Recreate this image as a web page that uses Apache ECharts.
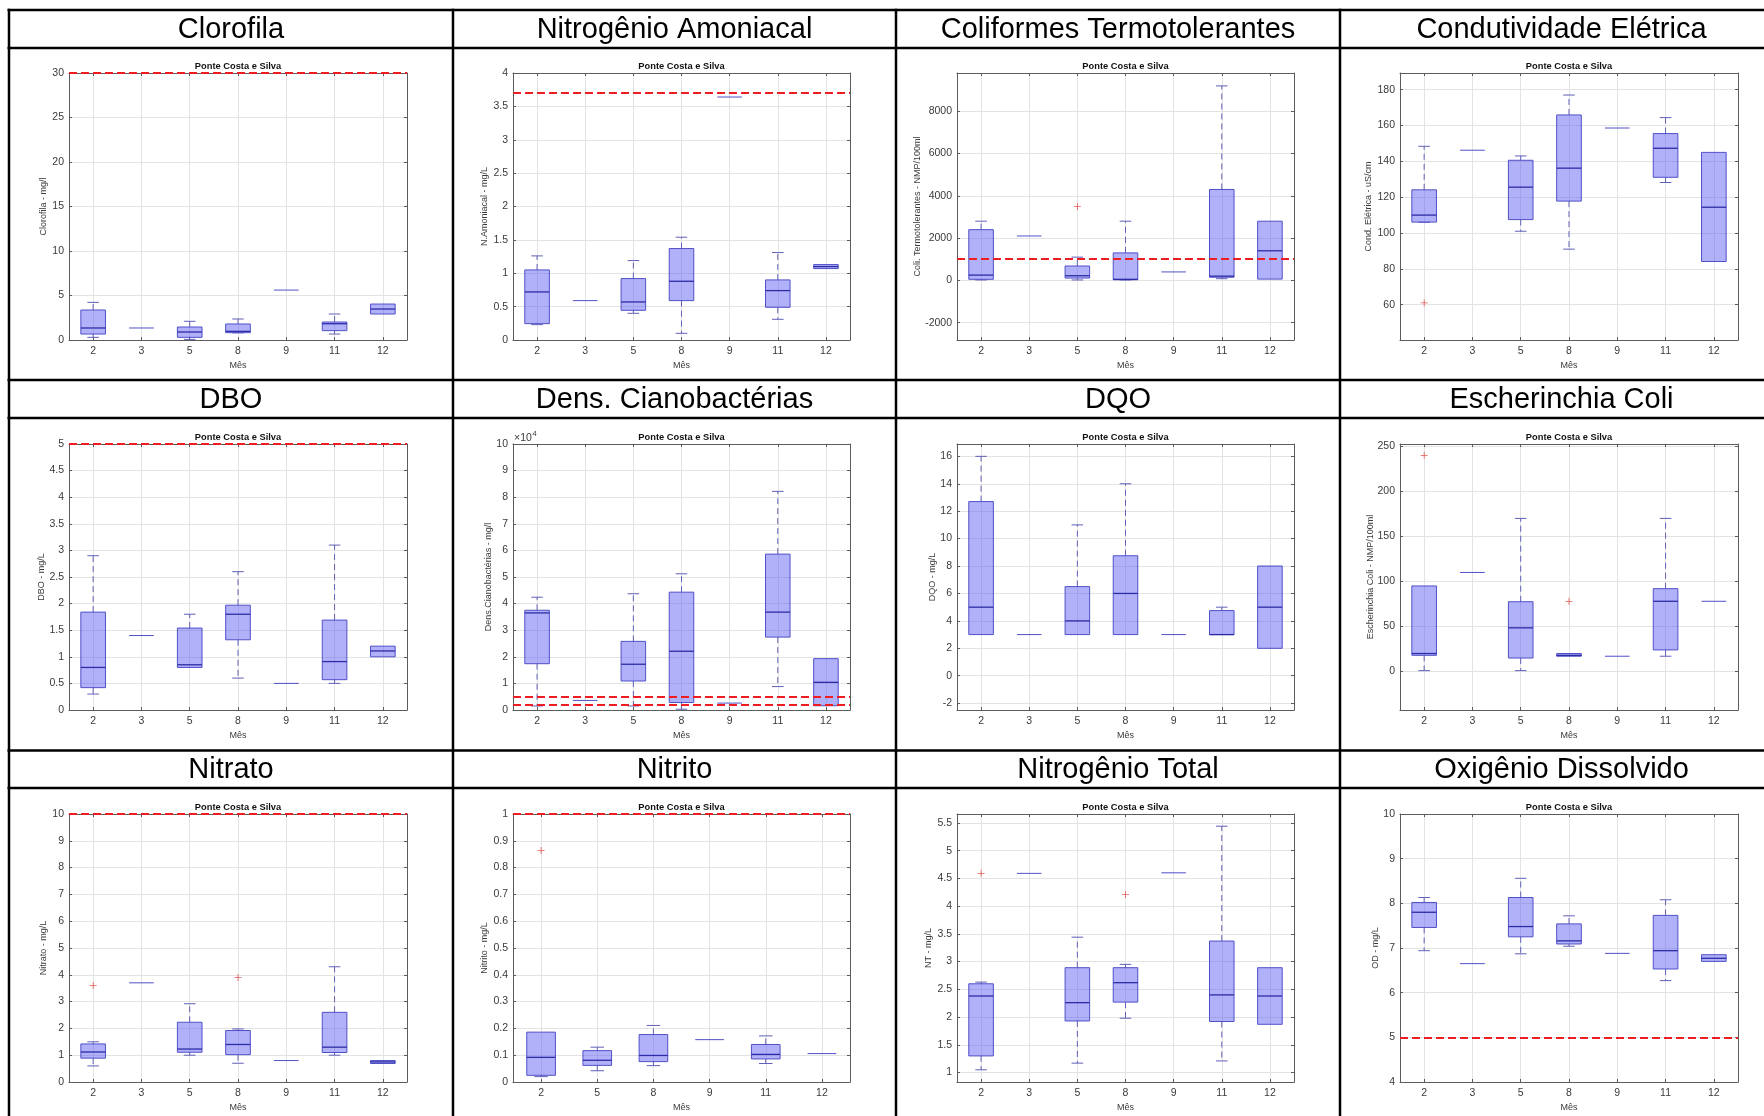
<!DOCTYPE html>
<html>
<head>
<meta charset="utf-8">
<title>Ponte Costa e Silva - boxplots mensais</title>
<script src="https://cdn.jsdelivr.net/npm/echarts@6/dist/echarts.min.js"></script>
<style>
  html, body { margin: 0; padding: 0; background: #ffffff; }
  #chart { width: 1764px; height: 1116px; }
</style>
</head>
<body>
<div id="chart"></div>
<script>
// ---- Months sampled ----
const months = ['2', '3', '5', '8', '9', '11', '12'];
const monthsNitrito = ['2', '5', '8', '9', '11', '12'];

// ---- Box statistics per month: [min, Q1, median, Q3, max] ----
const clorofila = [
  [0.3, 0.67, 1.35, 3.37, 4.23],
  [1.35, 1.35, 1.35, 1.35, 1.35],
  [0.07, 0.3, 0.9, 1.46, 2.1],
  [0.8, 0.82, 0.97, 1.8, 2.36],
  [5.61, 5.61, 5.61, 5.61, 5.61],
  [0.67, 1.05, 1.83, 2.02, 2.92],
  [2.92, 2.92, 3.48, 4.04, 4.04]
];
const clorofilaOut = [];
const clorofilaLimit = [30];
const clorofilaAxis = [0, 30, 5];

const amoniacal = [
  [0.23, 0.245, 0.72, 1.05, 1.26],
  [0.59, 0.59, 0.59, 0.59, 0.59],
  [0.4, 0.445, 0.57, 0.92, 1.19],
  [0.1, 0.59, 0.88, 1.37, 1.54],
  [3.64, 3.64, 3.64, 3.64, 3.64],
  [0.31, 0.49, 0.74, 0.9, 1.31],
  [1.07, 1.07, 1.1, 1.13, 1.13]
];
const amoniacalOut = [];
const amoniacalLimit = [3.7];
const amoniacalAxis = [0, 4, 0.5];

const coliformes = [
  [20, 50, 250, 2400, 2800],
  [2100, 2100, 2100, 2100, 2100],
  [20, 110, 220, 680, 1100],
  [20, 30, 50, 1300, 2800],
  [400, 400, 400, 400, 400],
  [80, 150, 200, 4300, 9200],
  [60, 60, 1400, 2800, 2800]
];
const coliformesOut = [['5', 3500]];
const coliformesLimit = [1000];
const coliformesAxis = [-2820, 9810, 2000];

const condutividade = [
  [106, 106.1, 110, 124.1, 148.4],
  [146.2, 146.2, 146.2, 146.2, 146.2],
  [101, 107.5, 125.6, 140.6, 143],
  [91, 117.8, 136.2, 165.9, 177],
  [158.6, 158.6, 158.6, 158.6, 158.6],
  [128.2, 131.1, 147.3, 155.5, 164.4],
  [84.1, 84.1, 114.4, 145, 145]
];
const condutividadeOut = [['2', 61]];
const condutividadeLimit = [];
const condutividadeAxis = [40.3, 189.3, 20];

const dbo = [
  [0.3, 0.42, 0.8, 1.84, 2.9],
  [1.4, 1.4, 1.4, 1.4, 1.4],
  [0.8, 0.8, 0.85, 1.54, 1.8],
  [0.6, 1.32, 1.8, 1.97, 2.6],
  [0.5, 0.5, 0.5, 0.5, 0.5],
  [0.5, 0.57, 0.91, 1.69, 3.1],
  [1, 1, 1.11, 1.2, 1.2]
];
const dboOut = [];
const dboLimit = [5];
const dboAxis = [0, 5, 0.5];

const cianobacterias = [
  [1500, 17400, 36500, 37500, 42400],
  [3600, 3600, 3600, 3600, 3600],
  [1500, 10900, 17200, 25800, 43700],
  [300, 2800, 22100, 44300, 51200],
  [2600, 2600, 2600, 2600, 2600],
  [8800, 27400, 36800, 58600, 82200],
  [1600, 1600, 10400, 19300, 19300]
];
const cianobacteriasOut = [];
const cianobacteriasLimit = [5000, 2000];
const cianobacteriasAxis = [0, 100000, 10000];

const dqo = [
  [3, 3, 5, 12.7, 16],
  [3, 3, 3, 3, 3],
  [3, 3, 4, 6.5, 11],
  [3, 3, 6, 8.75, 14],
  [3, 3, 3, 3, 3],
  [3, 3, 3, 4.75, 5],
  [2, 2, 5, 8, 8]
];
const dqoOut = [];
const dqoLimit = [];
const dqoAxis = [-2.5, 16.9, 2];

const ecoli = [
  [1, 18, 20, 95, 95],
  [110, 110, 110, 110, 110],
  [1, 15, 48.5, 77.5, 170],
  [17, 17, 18, 20, 20],
  [17, 17, 17, 17, 17],
  [17, 24, 78, 92, 170],
  [78, 78, 78, 78, 78]
];
const ecoliOut = [['2', 240], ['8', 78]];
const ecoliLimit = [];
const ecoliAxis = [-42.7, 252.6, 50];

const nitrato = [
  [0.6, 0.89, 1.12, 1.42, 1.5],
  [3.7, 3.7, 3.7, 3.7, 3.7],
  [1, 1.11, 1.23, 2.23, 2.92],
  [0.7, 1.02, 1.4, 1.92, 1.98],
  [0.8, 0.8, 0.8, 0.8, 0.8],
  [1, 1.1, 1.3, 2.6, 4.3],
  [0.69, 0.69, 0.75, 0.8, 0.8]
];
const nitratoOut = [['2', 3.6], ['8', 3.9]];
const nitratoLimit = [10];
const nitratoAxis = [0, 10, 1];

const nitrito = [
  [0.02, 0.025, 0.092, 0.186, 0.186],
  [0.042, 0.062, 0.081, 0.117, 0.13],
  [0.061, 0.076, 0.099, 0.177, 0.211],
  [0.158, 0.158, 0.158, 0.158, 0.158],
  [0.069, 0.086, 0.103, 0.14, 0.172],
  [0.106, 0.106, 0.106, 0.106, 0.106]
];
const nitritoOut = [['2', 0.864]];
const nitritoLimit = [1];
const nitritoAxis = [0, 1, 0.1];

const nitrogenioTotal = [
  [1.05, 1.3, 2.38, 2.6, 2.63],
  [4.59, 4.59, 4.59, 4.59, 4.59],
  [1.17, 1.93, 2.26, 2.89, 3.44],
  [1.98, 2.27, 2.62, 2.89, 2.95],
  [4.6, 4.6, 4.6, 4.6, 4.6],
  [1.21, 1.92, 2.4, 3.37, 5.44],
  [1.87, 1.87, 2.38, 2.89, 2.89]
];
const nitrogenioTotalOut = [['2', 4.59], ['8', 4.21]];
const nitrogenioTotalLimit = [];
const nitrogenioTotalAxis = [0.83, 5.66, 0.5];

const oxigenio = [
  [6.94, 7.46, 7.8, 8.02, 8.13],
  [6.65, 6.65, 6.65, 6.65, 6.65],
  [6.87, 7.25, 7.48, 8.13, 8.56],
  [7.04, 7.09, 7.16, 7.54, 7.72],
  [6.88, 6.88, 6.88, 6.88, 6.88],
  [6.27, 6.53, 6.94, 7.73, 8.08],
  [6.7, 6.7, 6.77, 6.85, 6.85]
];
const oxigenioOut = [];
const oxigenioLimit = [5];
const oxigenioAxis = [4, 10, 1];

// ---- Panel descriptions (table order, four per row) ----
const panels = [
  { title: 'Clorofila', yName: 'Clorofila - mg/l', cats: months, boxes: clorofila, out: clorofilaOut, limits: clorofilaLimit, axis: clorofilaAxis, nameGap: 21 },
  { title: 'Nitrogênio Amoniacal', yName: 'N.Amoniacal - mg/L', cats: months, boxes: amoniacal, out: amoniacalOut, limits: amoniacalLimit, axis: amoniacalAxis, nameGap: 24 },
  { title: 'Coliformes Termotolerantes', yName: 'Coli. Termotolerantes - NMP/100ml', cats: months, boxes: coliformes, out: coliformesOut, limits: coliformesLimit, axis: coliformesAxis, nameGap: 35 },
  { title: 'Condutividade Elétrica', yName: 'Cond. Elétrica - uS/cm', cats: months, boxes: condutividade, out: condutividadeOut, limits: condutividadeLimit, axis: condutividadeAxis, nameGap: 27 },
  { title: 'DBO', yName: 'DBO - mg/L', cats: months, boxes: dbo, out: dboOut, limits: dboLimit, axis: dboAxis, nameGap: 23 },
  { title: 'Dens. Cianobactérias', yName: 'Dens.Cianobactérias - mg/l', cats: months, boxes: cianobacterias, out: cianobacteriasOut, limits: cianobacteriasLimit, axis: cianobacteriasAxis, nameGap: 20, scale: 10000 },
  { title: 'DQO', yName: 'DQO - mg/L', cats: months, boxes: dqo, out: dqoOut, limits: dqoLimit, axis: dqoAxis, nameGap: 20 },
  { title: 'Escherinchia Coli', yName: 'Escherinchia Coli - NMP/100ml', cats: months, boxes: ecoli, out: ecoliOut, limits: ecoliLimit, axis: ecoliAxis, nameGap: 25 },
  { title: 'Nitrato', yName: 'Nitrato - mg/L', cats: months, boxes: nitrato, out: nitratoOut, limits: nitratoLimit, axis: nitratoAxis, nameGap: 21 },
  { title: 'Nitrito', yName: 'Nitrito - mg/L', cats: monthsNitrito, boxes: nitrito, out: nitritoOut, limits: nitritoLimit, axis: nitritoAxis, nameGap: 24 },
  { title: 'Nitrogênio Total', yName: 'NT - mg/L', cats: months, boxes: nitrogenioTotal, out: nitrogenioTotalOut, limits: nitrogenioTotalLimit, axis: nitrogenioTotalAxis, nameGap: 24 },
  { title: 'Oxigênio Dissolvido', yName: 'OD - mg/L', cats: months, boxes: oxigenio, out: oxigenioOut, limits: oxigenioLimit, axis: oxigenioAxis, nameGap: 20 }
];

const SUBTITLE = 'Ponte Costa e Silva';

// ---- Layout of the table and of the plot boxes ----
const COL_X = [9, 453, 896, 1340, 1783];
const ROW_RULES = [10, 48, 380, 418, 750.5, 788];
const HEADER_MID = [29.5, 399.5, 769.5];
const PLOT_LEFT = [69, 513, 957, 1400];
const PLOT_WIDTH = [338, 337, 337, 338];
const PLOT_TOP = [73, 444, 814];
const PLOT_HEIGHT = [267, 266, 268];

// ---- Styling ----
const FONT = '"Liberation Sans", Arial, Helvetica, sans-serif';
const AXIS = '#5c5c5c';
const TEXT = '#3a3a3a';
const GRID = '#e3e3e3';
const BOX_FILL = 'rgba(92, 92, 245, 0.48)';
const BOX_EDGE = '#5050c8';
const MEDIAN = '#2c2ca6';
const WHISKER = '#6060b8';
const OUTLIER = '#e2302a';
const LIMIT = '#ee1d24';
const PLUS = 'path://M4,0H5V9H4Z M0,4H9V5H0Z';

// MATLAB-like box: filled box, median, dashed whiskers with short caps
function renderBox(params, api) {
  const k = api.value(0);
  const v = [1, 2, 3, 4, 5].map(d => api.value(d));
  const band = api.size([1, 0])[0];
  const hw = band * 0.255;
  const cw = band * 0.12;
  const cx = api.coord([k, v[2]])[0];
  const y = val => api.coord([k, val])[1];
  const children = [];
  const dashed = { stroke: WHISKER, lineWidth: 1, lineDash: [6, 4], fill: null };
  const solid = { stroke: WHISKER, lineWidth: 1, fill: null };
  if (v[4] > v[3]) {
    children.push({ type: 'line', shape: { x1: cx, y1: y(v[3]), x2: cx, y2: y(v[4]) }, style: dashed });
    children.push({ type: 'line', shape: { x1: cx - cw, y1: y(v[4]), x2: cx + cw, y2: y(v[4]) }, style: solid });
  }
  if (v[0] < v[1]) {
    children.push({ type: 'line', shape: { x1: cx, y1: y(v[1]), x2: cx, y2: y(v[0]) }, style: dashed });
    children.push({ type: 'line', shape: { x1: cx - cw, y1: y(v[0]), x2: cx + cw, y2: y(v[0]) }, style: solid });
  }
  if (v[3] > v[1]) {
    children.push({
      type: 'rect',
      shape: { x: cx - hw, y: y(v[3]), width: 2 * hw, height: y(v[1]) - y(v[3]) },
      style: { fill: BOX_FILL, stroke: BOX_EDGE, lineWidth: 1 }
    });
    children.push({ type: 'line', shape: { x1: cx - hw, y1: y(v[2]), x2: cx + hw, y2: y(v[2]) }, style: { stroke: MEDIAN, lineWidth: 1.3 } });
  } else {
    children.push({ type: 'line', shape: { x1: cx - hw, y1: y(v[2]), x2: cx + hw, y2: y(v[2]) }, style: { stroke: BOX_EDGE, lineWidth: 1 } });
  }
  return { type: 'group', children };
}

function isMultiple(a, step) {
  const r = a / step;
  return Math.abs(r - Math.round(r)) < 1e-6;
}

const option = {
  animation: false,
  backgroundColor: '#ffffff',
  textStyle: { fontFamily: FONT },
  grid: [], xAxis: [], yAxis: [], series: [], graphic: []
};

panels.forEach((p, i) => {
  const r = Math.floor(i / 4), c = i % 4;
  const L = PLOT_LEFT[c], T = PLOT_TOP[r], W = PLOT_WIDTH[c], H = PLOT_HEIGHT[r];
  const [yMin, yMax, yStep] = p.axis;
  option.grid.push({ left: L, top: T, width: W, height: H, containLabel: false, show: false });

  const xb = option.xAxis.length;
  // vertical grid lines through the month positions
  option.xAxis.push({
    gridIndex: i, type: 'category', data: p.cats, position: 'bottom', boundaryGap: true,
    axisLine: { show: false, onZero: false }, axisLabel: { show: false }, splitLine: { show: false },
    axisTick: { show: true, alignWithLabel: true, inside: true, length: H - 1, lineStyle: { color: GRID, width: 1 } }
  });
  // bottom axis with month labels
  option.xAxis.push({
    gridIndex: i, type: 'category', data: p.cats, position: 'bottom', boundaryGap: true,
    axisLine: { show: true, onZero: false, lineStyle: { color: AXIS, width: 1 } },
    axisTick: { show: true, alignWithLabel: true, inside: true, length: 3, lineStyle: { color: AXIS } },
    axisLabel: { show: true, interval: 0, fontSize: 10.5, color: TEXT, margin: 6, fontFamily: FONT },
    splitLine: { show: false },
    name: 'Mês', nameLocation: 'middle', nameGap: 21,
    nameTextStyle: { fontSize: 9, color: TEXT, fontFamily: FONT }
  });
  // top border
  option.xAxis.push({
    gridIndex: i, type: 'category', data: p.cats, position: 'top', boundaryGap: true,
    axisLine: { show: true, onZero: false, lineStyle: { color: AXIS, width: 1 } },
    axisTick: { show: true, alignWithLabel: true, inside: true, length: 3, lineStyle: { color: AXIS } },
    axisLabel: { show: false }, splitLine: { show: false }
  });

  const yb = option.yAxis.length;
  const scaleBase = { type: 'value', min: yMin, max: yMax, minInterval: yStep, maxInterval: yStep, scale: true };
  // horizontal grid lines
  option.yAxis.push(Object.assign({}, scaleBase, {
    gridIndex: i, position: 'left',
    axisLine: { show: false, onZero: false }, axisTick: { show: false }, axisLabel: { show: false },
    splitLine: { show: true, showMinLine: false, showMaxLine: false, lineStyle: { color: GRID, width: 1 } }
  }));
  // left axis with labels
  option.yAxis.push(Object.assign({}, scaleBase, {
    gridIndex: i, position: 'left',
    axisLine: { show: true, onZero: false, lineStyle: { color: AXIS, width: 1 } },
    axisTick: { show: true, inside: true, length: 3, lineStyle: { color: AXIS } },
    axisLabel: {
      show: true, fontSize: 10.5, color: TEXT, margin: 5, fontFamily: FONT,
      showMinLabel: isMultiple(yMin, yStep), showMaxLabel: isMultiple(yMax, yStep),
      formatter: v => String(Math.round((p.scale ? v / p.scale : v) * 1e6) / 1e6)
    },
    splitLine: { show: false },
    name: p.yName, nameLocation: 'middle', nameGap: p.nameGap, nameMoveOverlap: false,
    nameTextStyle: { fontSize: 9, color: TEXT, fontFamily: FONT }
  }));
  // right border
  option.yAxis.push(Object.assign({}, scaleBase, {
    gridIndex: i, position: 'right',
    axisLine: { show: true, onZero: false, lineStyle: { color: AXIS, width: 1 } },
    axisTick: { show: true, inside: true, length: 3, lineStyle: { color: AXIS } },
    axisLabel: { show: false }, splitLine: { show: false }
  }));

  const boxSeries = {
    type: 'custom', name: p.title,
    xAxisIndex: xb + 1, yAxisIndex: yb + 1,
    data: p.boxes.map((b, k) => [k].concat(b)),
    encode: { x: 0, y: [1, 2, 3, 4, 5] },
    renderItem: renderBox, z: 3, silent: true
  };
  if (p.limits.length) {
    boxSeries.markLine = {
      silent: true, symbol: ['none', 'none'], animation: false,
      label: { show: false },
      lineStyle: { color: LIMIT, type: [8, 4], width: 2 },
      data: p.limits.map(v => ({ yAxis: v }))
    };
  }
  option.series.push(boxSeries);
  option.series.push({
    type: 'scatter', xAxisIndex: xb + 1, yAxisIndex: yb + 1,
    data: p.out, symbol: PLUS, symbolSize: 7, silent: true,
    itemStyle: { color: OUTLIER }, z: 4
  });

  // panel subtitle
  option.graphic.push({
    type: 'text', x: L + W / 2, y: T - 7, silent: true,
    style: { text: SUBTITLE, fontSize: 9.3, fontWeight: 'bold', fontFamily: FONT, fill: '#111111', align: 'center', verticalAlign: 'middle' }
  });
  // column header
  option.graphic.push({
    type: 'text', x: (COL_X[c] + COL_X[c + 1]) / 2, y: HEADER_MID[r], silent: true,
    style: { text: p.title, fontSize: 29, fontFamily: FONT, fill: '#000000', align: 'center', verticalAlign: 'middle' }
  });
  // axis exponent
  if (p.scale) {
    option.graphic.push({
      type: 'text', x: L + 1, y: T - 5.5, silent: true,
      style: { text: '×10', fontSize: 10.5, fontFamily: FONT, fill: TEXT, align: 'left', verticalAlign: 'middle' }
    });
    option.graphic.push({
      type: 'text', x: L + 19.5, y: T - 10, silent: true,
      style: { text: '4', fontSize: 7.5, fontFamily: FONT, fill: TEXT, align: 'left', verticalAlign: 'middle' }
    });
  }
});

// table rules
ROW_RULES.forEach(yy => {
  option.graphic.push({ type: 'line', silent: true, shape: { x1: 7.5, y1: yy, x2: 1764, y2: yy }, style: { stroke: '#000000', lineWidth: 2.5 } });
});
COL_X.slice(0, 4).forEach(xx => {
  option.graphic.push({ type: 'line', silent: true, shape: { x1: xx, y1: 8.8, x2: xx, y2: 1116 }, style: { stroke: '#000000', lineWidth: 2.5 } });
});

const chart = echarts.init(document.getElementById('chart'), null, { renderer: 'canvas' });
chart.setOption(option);
</script>
</body>
</html>
